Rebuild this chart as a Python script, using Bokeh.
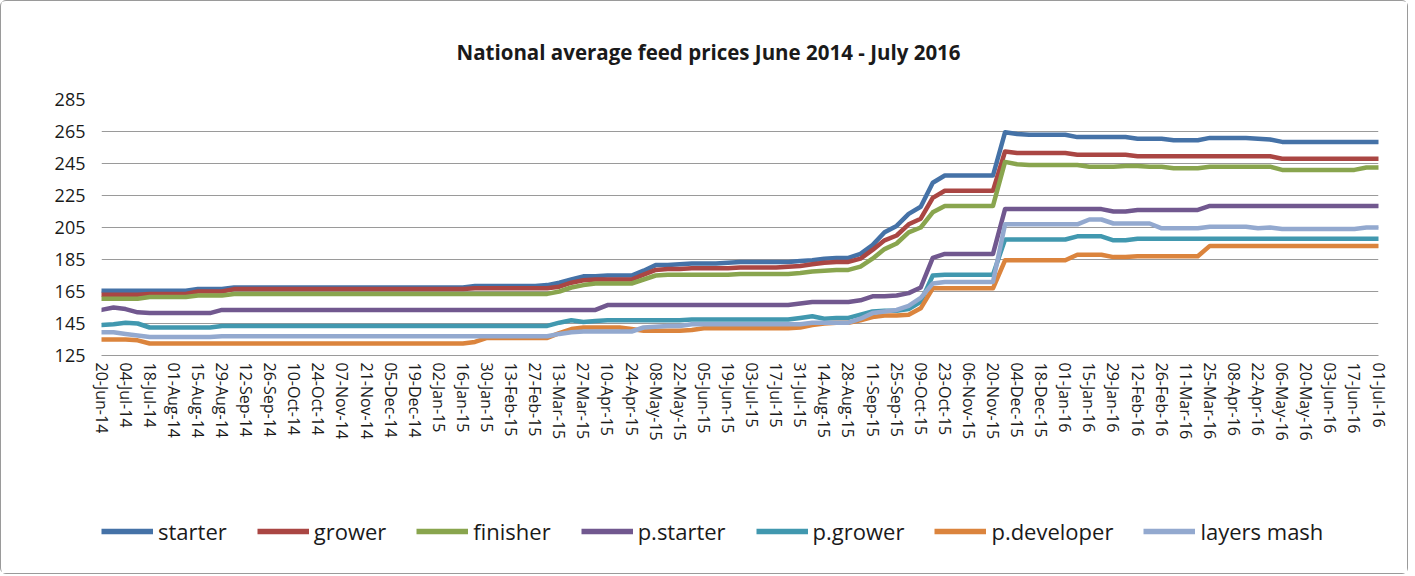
import pandas as pd
from bokeh.plotting import figure
from bokeh.layouts import column
from bokeh.models import (ColumnDataSource, Range1d, FixedTicker, DatetimeTickFormatter,
                          Legend, LegendItem)
from bokeh.embed import file_html
from bokeh.resources import INLINE

title_text = "National average feed prices June 2014 - July 2016"
start_date = "2014-06-20"
n_weeks = 107
dates = pd.date_range(start_date, periods=n_weeks, freq="7D")
y_ticks = [125, 145, 165, 185, 205, 225, 245, 265, 285]

series_names = ["starter", "grower", "finisher", "p.starter", "p.grower", "p.developer", "layers mash"]
colors = ["#4572A7", "#AA4643", "#89A54E", "#71588F", "#4198AF", "#DB843D", "#93A9CF"]

starter = [165.5, 165.5, 165.5, 165.5, 165.5, 165.5, 165.5, 165.5, 166.5, 166.5,
           166.5, 167.5, 167.5, 167.5, 167.5, 167.5, 167.5, 167.5, 167.5, 167.5,
           167.5, 167.5, 167.5, 167.5, 167.5, 167.5, 167.5, 167.5, 167.5, 167.5,
           167.5, 168.5, 168.5, 168.5, 168.5, 168.5, 168.5, 169, 170.5, 172.5,
           174.5, 174.5, 175, 175, 175, 178, 181.5, 181.5, 182, 182.5,
           182.5, 182.5, 183, 183.5, 183.5, 183.5, 183.5, 183.5, 184, 184.5,
           185.5, 186, 186, 188.5, 194, 202, 206, 213.5, 218, 233,
           237.5, 237.5, 237.5, 237.5, 237.5, 264.5, 263.5, 263, 263, 263,
           263, 261.5, 261.5, 261.5, 261.5, 261.5, 260.5, 260.5, 260.5, 259.5,
           259.5, 259.5, 261, 261, 261, 261, 260.5, 260, 258.5, 258.5,
           258.5, 258.5, 258.5, 258.5, 258.5, 258.5, 258.5]

grower = [163, 163, 163, 163, 163.5, 163.5, 163.5, 163.5, 165, 165,
          165, 166.5, 166.5, 166.5, 166.5, 166.5, 166.5, 166.5, 166.5, 166.5,
          166.5, 166.5, 166.5, 166.5, 166.5, 166.5, 166.5, 166.5, 166.5, 166.5,
          166.5, 167, 167, 167, 167, 167, 167, 167, 168, 170.5,
          172, 172.5, 172.5, 172.5, 172.5, 175.5, 178.5, 179, 179, 179.5,
          179.5, 179.5, 179.5, 180, 180, 180, 180, 180.5, 181, 182,
          183, 183.5, 183.5, 185.5, 191, 197, 200, 207, 210.5, 223.5,
          228, 228, 228, 228, 228, 252.5, 251.5, 251.5, 251.5, 251.5,
          251.5, 250.5, 250.5, 250.5, 250.5, 250.5, 249.5, 249.5, 249.5, 249.5,
          249.5, 249.5, 249.5, 249.5, 249.5, 249.5, 249.5, 249.5, 248, 248,
          248, 248, 248, 248, 248, 248, 248]

finisher = [160.5, 160.5, 160.5, 160.5, 161.5, 161.5, 161.5, 161.5, 162.5, 162.5,
            162.5, 163.5, 163.5, 163.5, 163.5, 163.5, 163.5, 163.5, 163.5, 163.5,
            163.5, 163.5, 163.5, 163.5, 163.5, 163.5, 163.5, 163.5, 163.5, 163.5,
            163.5, 163.5, 163.5, 163.5, 163.5, 163.5, 163.5, 163.5, 165, 167.5,
            169, 170, 170, 170, 170, 172.5, 175, 175.5, 175.5, 175.5,
            175.5, 175.5, 175.5, 176, 176, 176, 176, 176, 176.5, 177.5,
            178, 178.5, 178.5, 180.5, 185.5, 191.5, 195, 202, 205, 214.5,
            218.5, 218.5, 218.5, 218.5, 218.5, 246, 244.5, 244, 244, 244,
            244, 244, 243, 243, 243, 243.5, 243.5, 243, 243, 242,
            242, 242, 243, 243, 243, 243, 243, 243, 241, 241,
            241, 241, 241, 241, 241, 242.5, 242.5]

p_starter = [153.5, 155, 154, 152, 151.5, 151.5, 151.5, 151.5, 151.5, 151.5,
             153.5, 153.5, 153.5, 153.5, 153.5, 153.5, 153.5, 153.5, 153.5, 153.5,
             153.5, 153.5, 153.5, 153.5, 153.5, 153.5, 153.5, 153.5, 153.5, 153.5,
             153.5, 153.5, 153.5, 153.5, 153.5, 153.5, 153.5, 153.5, 153.5, 153.5,
             153.5, 153.5, 156.5, 156.5, 156.5, 156.5, 156.5, 156.5, 156.5, 156.5,
             156.5, 156.5, 156.5, 156.5, 156.5, 156.5, 156.5, 156.5, 157.5, 158.5,
             158.5, 158.5, 158.5, 159.5, 162, 162, 162.5, 164, 167.5, 186,
             188.5, 188.5, 188.5, 188.5, 188.5, 216.5, 216.5, 216.5, 216.5, 216.5,
             216.5, 216.5, 216.5, 216.5, 215, 215, 216, 216, 216, 216,
             216, 216, 218.5, 218.5, 218.5, 218.5, 218.5, 218.5, 218.5, 218.5,
             218.5, 218.5, 218.5, 218.5, 218.5, 218.5, 218.5]

p_grower = [144, 144.5, 145.5, 145, 142.5, 142.5, 142.5, 142.5, 142.5, 142.5,
            143.5, 143.5, 143.5, 143.5, 143.5, 143.5, 143.5, 143.5, 143.5, 143.5,
            143.5, 143.5, 143.5, 143.5, 143.5, 143.5, 143.5, 143.5, 143.5, 143.5,
            143.5, 143.5, 143.5, 143.5, 143.5, 143.5, 143.5, 143.5, 145.5, 147,
            146, 146.5, 147, 147, 147, 147, 147, 147, 147, 147.5,
            147.5, 147.5, 147.5, 147.5, 147.5, 147.5, 147.5, 147.5, 148.5, 149.5,
            148, 148.5, 148.5, 150.5, 152.5, 153, 153, 154, 158.5, 175,
            175.5, 175.5, 175.5, 175.5, 175.5, 197.5, 197.5, 197.5, 197.5, 197.5,
            197.5, 199.5, 199.5, 199.5, 197, 197, 198, 198, 198, 198,
            198, 198, 198, 198, 198, 198, 198, 198, 198, 198,
            198, 198, 198, 198, 198, 198, 198]

p_developer = [135, 135, 135, 134.5, 132.5, 132.5, 132.5, 132.5, 132.5, 132.5,
               132.5, 132.5, 132.5, 132.5, 132.5, 132.5, 132.5, 132.5, 132.5, 132.5,
               132.5, 132.5, 132.5, 132.5, 132.5, 132.5, 132.5, 132.5, 132.5, 132.5,
               132.5, 133.5, 136, 136, 136, 136, 136, 136, 139, 141.5,
               142.5, 142.5, 142.5, 142.5, 141.5, 140.5, 140.5, 140.5, 140.5, 141,
               142, 142, 142, 142, 142, 142, 142, 142, 142.5, 144,
               145, 145.5, 145.5, 147, 149, 150, 150, 150.5, 154.5, 167,
               167, 167, 167, 167, 167, 184.5, 184.5, 184.5, 184.5, 184.5,
               184.5, 188, 188, 188, 186.5, 186.5, 187, 187, 187, 187,
               187, 187, 193.5, 193.5, 193.5, 193.5, 193.5, 193.5, 193.5, 193.5,
               193.5, 193.5, 193.5, 193.5, 193.5, 193.5, 193.5]

layers_mash = [139.5, 139.5, 138.5, 137.5, 136.5, 136.5, 136.5, 136.5, 136.5, 136.5,
               137, 137, 137, 137, 137, 137, 137, 137, 137, 137,
               137, 137, 137, 137, 137, 137, 137, 137, 137, 137,
               137, 137, 137, 137, 137, 137, 137, 137, 138.5, 139.5,
               140, 140, 140, 140, 140, 142.5, 143, 143.5, 143.5, 144.5,
               144.5, 144.5, 144.5, 144.5, 144.5, 144.5, 144.5, 144.5, 144.5, 145.5,
               145.5, 145.5, 145.5, 148, 151.5, 152.5, 153.5, 156, 161, 170,
               171, 171, 171, 171, 171, 207, 207, 207, 207, 207,
               207, 207, 210, 210, 207.5, 207.5, 207.5, 207.5, 204.5, 204.5,
               204.5, 204.5, 205.5, 205.5, 205.5, 205.5, 204.5, 205, 204, 204,
               204, 204, 204, 204, 204, 205, 205]

series_values = [starter, grower, finisher, p_starter, p_grower, p_developer, layers_mash]

FONT = "Open Sans"
LW = 4.5

src_data = {"date": dates}
for name, vals in zip(series_names, series_values):
    src_data[name] = vals
src = ColumnDataSource(src_data)

# ---------------- main chart ----------------
p = figure(width=1406, height=470, output_backend="svg", toolbar_location=None,
           x_axis_type="datetime",
           x_range=Range1d(dates[0], dates[-1]), y_range=Range1d(125, 285),
           min_border_left=100, min_border_right=29, min_border_top=97, min_border_bottom=116,
           background_fill_color="white", border_fill_color="white")
p.outline_line_color = None

p.title.text = title_text
p.title.align = "left"
p.title.offset = 355
p.title.standoff = 68
p.title.text_font = FONT
p.title.text_font_size = "20.5px"
p.title.text_font_style = "bold"
p.title.text_color = "#1a1a1a"

for name, col in zip(series_names, colors):
    p.line("date", name, source=src, line_color=col, line_width=LW,
           line_join="round", line_cap="round")

p.yaxis.ticker = FixedTicker(ticks=y_ticks)
p.yaxis.axis_line_color = None
p.yaxis.major_tick_line_color = None
p.yaxis.minor_tick_line_color = None
p.yaxis.major_label_text_font = FONT
p.yaxis.major_label_text_font_size = "18px"
p.yaxis.major_label_text_color = "#1a1a1a"
p.yaxis.major_label_standoff = 10

tick_ms = [d.timestamp() * 1000 for d in dates[::2]]
p.xaxis.ticker = FixedTicker(ticks=tick_ms)
fmt = "%d-%b-%y"
p.xaxis.formatter = DatetimeTickFormatter(milliseconds=fmt, seconds=fmt, minsec=fmt, minutes=fmt,
                                          hourmin=fmt, hours=fmt, days=fmt, months=fmt, years=fmt)
p.xaxis.major_label_orientation = "vertical"
p.xaxis.major_label_text_font = FONT
p.xaxis.major_label_text_font_size = "16px"
p.xaxis.major_label_text_color = "#1a1a1a"
p.xaxis.axis_line_color = "#9a9a9a"
p.xaxis.major_tick_line_color = None
p.xaxis.minor_tick_line_color = None
p.xaxis.major_tick_out = 0
p.xaxis.major_tick_in = 0
p.xaxis.major_label_standoff = 7

p.xgrid.grid_line_color = None
p.ygrid.ticker = FixedTicker(ticks=y_ticks)
p.ygrid.grid_line_color = "#9a9a9a"
p.ygrid.grid_line_width = 1.2

# ---------------- legend strip ----------------
leg = figure(width=1406, height=102, output_backend="svg", toolbar_location=None,
             x_axis_type="datetime", x_axis_location=None, y_axis_location=None,
             x_range=Range1d(dates[0], dates[-1]), y_range=Range1d(1000, 1001),
             min_border_left=0, min_border_right=0, min_border_top=0, min_border_bottom=0,
             background_fill_color="white", border_fill_color="white")
leg.outline_line_color = None
leg.grid.visible = False

items = []
for name, col in zip(series_names, colors):
    r = leg.line("date", name, source=src, line_color=col, line_width=LW + 1,
                 line_cap="butt")
    items.append(LegendItem(label=name, renderers=[r]))

legend = Legend(items=items, orientation="horizontal", location=(0, 27),
                glyph_width=52, glyph_height=20, label_standoff=5, spacing=30,
                padding=0, margin=0, border_line_color=None, background_fill_alpha=0,
                label_text_font=FONT, label_text_font_size="22px", label_text_color="#1a1a1a")
leg.add_layout(legend)

layout = column(p, leg, spacing=0,
                styles={"border": "1px solid #9a9a9a", "border-radius": "6px"})

open("out.html", "w").write(file_html(layout, INLINE, "feed prices"))
